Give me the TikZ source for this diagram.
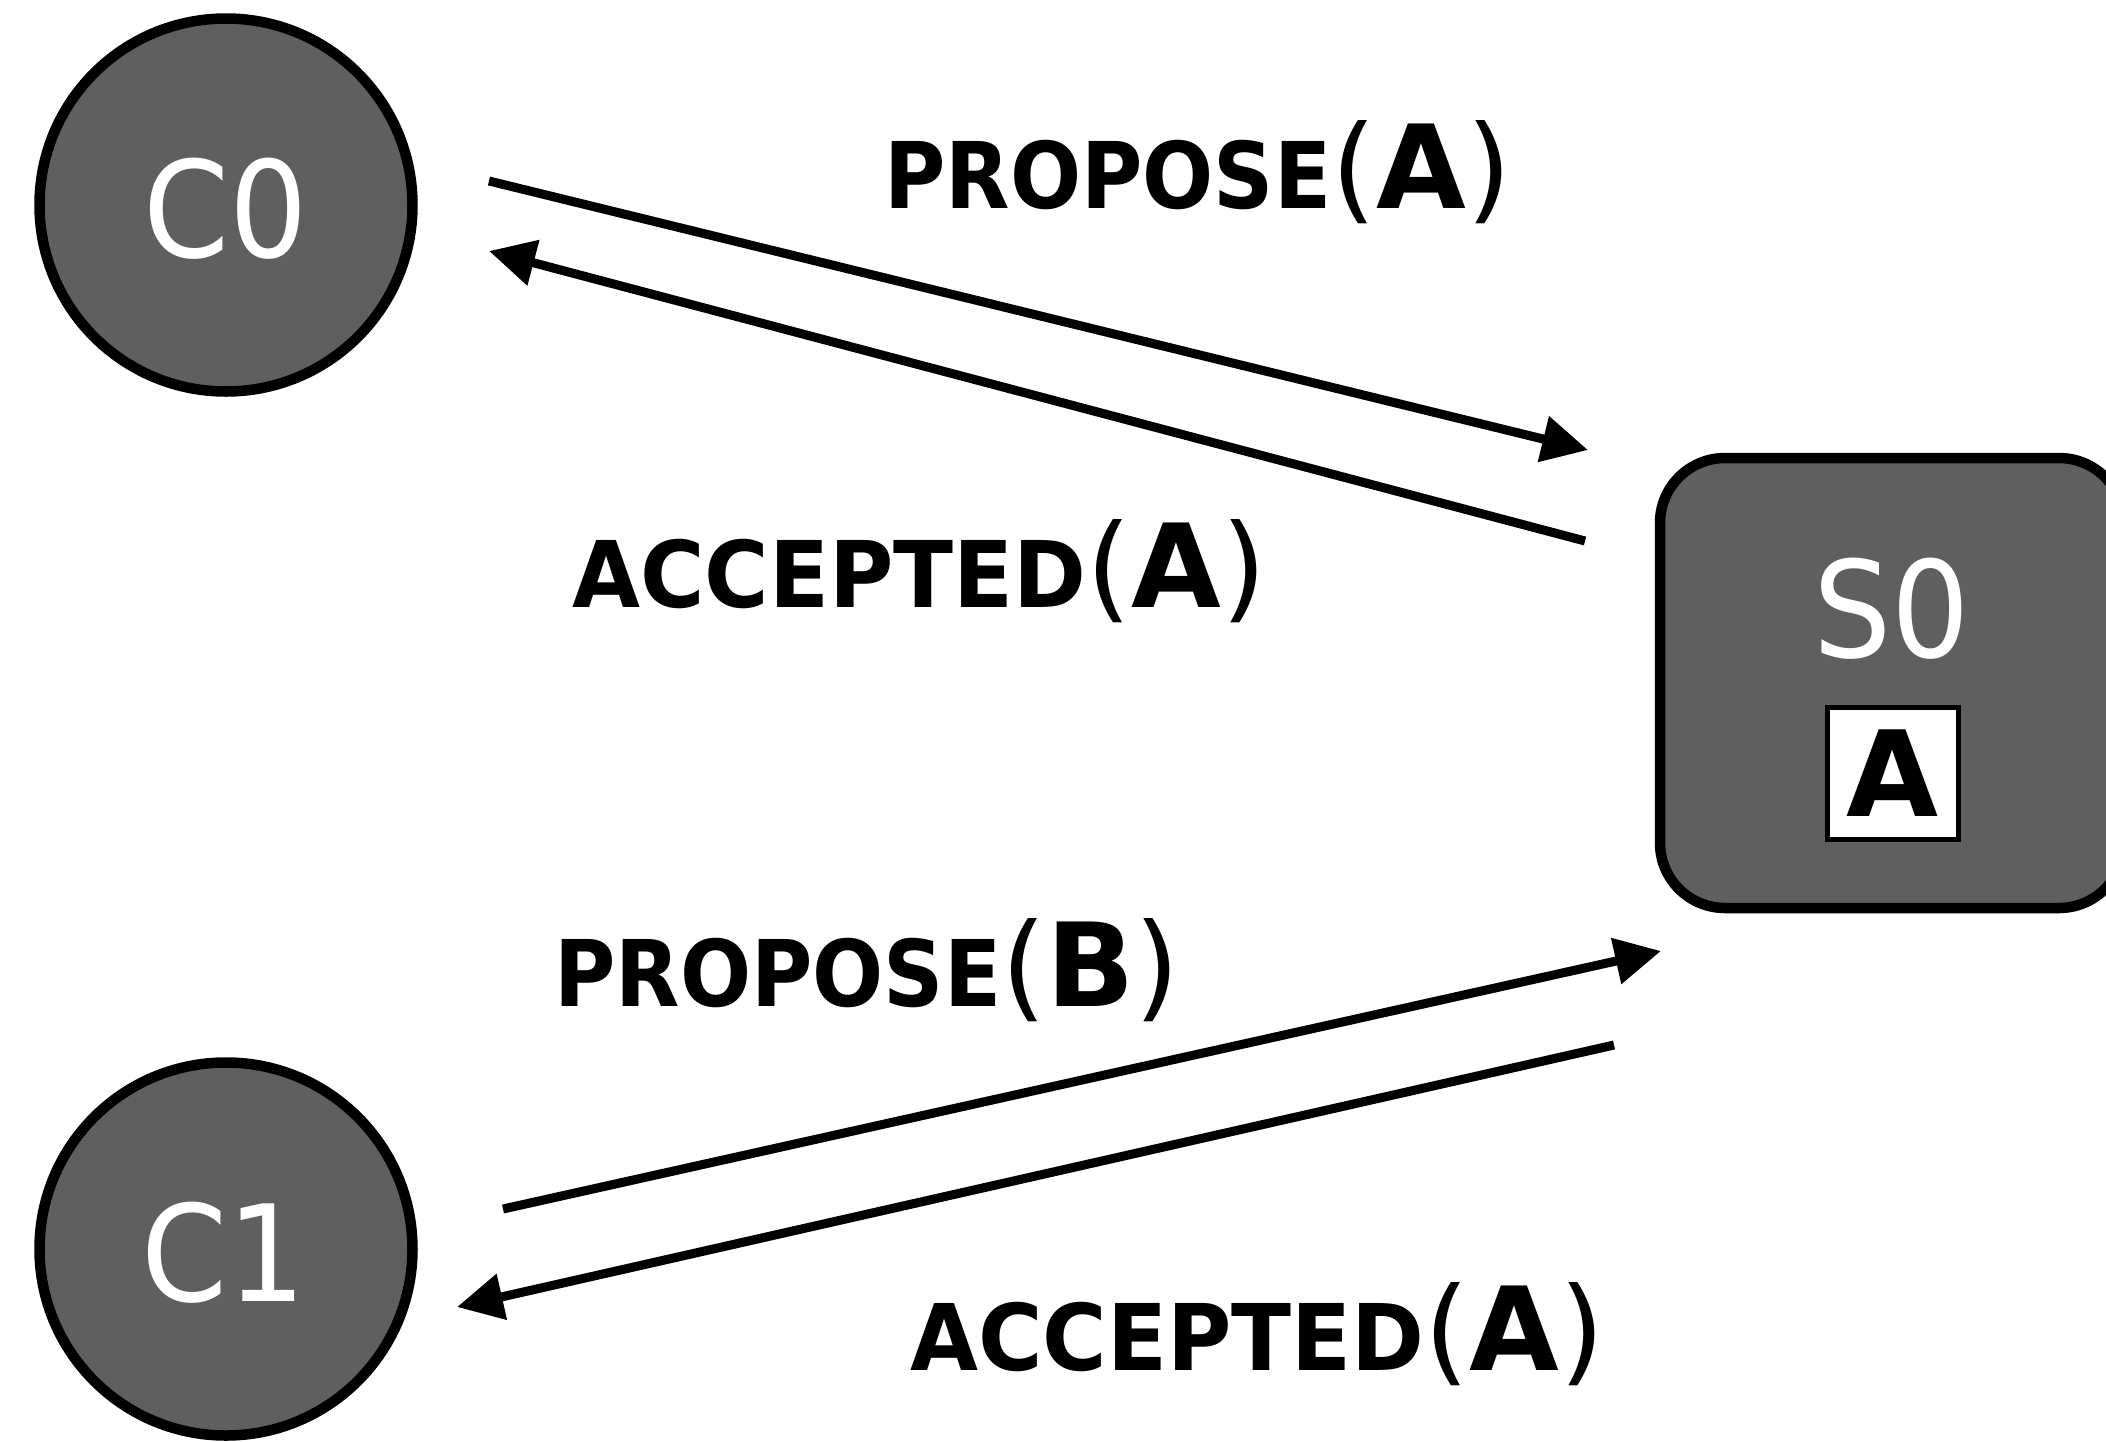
\documentclass[tikz,border=0pt]{standalone}
\usepackage{fontspec}
\setmainfont{DejaVu Sans}
\newfontfamily\proposefont{DejaVu Sans}[FakeStretch=0.91]
\newfontfamily\acceptfont{DejaVu Sans}[FakeStretch=0.955]
\newfontfamily\namefont{DejaVu Sans}[FakeStretch=0.92]
\usetikzlibrary{arrows.meta}
\definecolor{nodegray}{RGB}{95,95,95}
% message text: bold name, larger argument in parentheses
\newcommand\msgtext[3]{{#1\fontsize{92}{92}\selectfont\bfseries #2}{\fontsize{116}{116}\selectfont(\textbf{#3})}}

\begin{document}
\begin{tikzpicture}[x=1pt,y=-1pt,
  client/.style={circle, draw=black, line width=10.5pt, fill=nodegray,
    minimum size=373pt, inner sep=0pt},
  server/.style={rectangle, rounded corners=65pt, draw=black, line width=10.5pt,
    fill=nodegray, minimum width=464pt, minimum height=450pt, inner sep=0pt},
  nodename/.style={text=white, inner sep=0pt, font=\namefont\fontsize{134}{134}\selectfont},
  valuebox/.style={draw=black, line width=5pt, fill=white, minimum width=131pt,
    minimum height=132pt, inner sep=0pt, font=\fontsize{119}{119}\selectfont\bfseries},
  msg/.style={inner sep=0pt, anchor=base west},
  wire/.style={line width=9pt, -{Triangle[length=46pt,width=45pt]}},
]
\useasboundingbox (0,0) rectangle (2106,1441);
\clip (0,0) rectangle (2106,1441);

% clients and server
\node[client] (c0) at (226,205) {};
\node[nodename] (c0name) at (226,209) {C0};
\node[client] (c1) at (226,1249) {};
\node[nodename] (c1name) at (224,1253) {C1};
\node[server] (s0) at (1892,683) {};
\node[nodename] (s0name) at (1892,609) {S0};
\node[valuebox] (s0val) at (1893,773) {A};

% message end points
\coordinate (pa1) at (489,181);
\coordinate (pa2) at (1588,450);
\coordinate (aa1) at (1585,541);
\coordinate (aa2) at (489,251);
\coordinate (pb1) at (503,1209);
\coordinate (pb2) at (1661,951);
\coordinate (ab1) at (1614,1045);
\coordinate (ab2) at (457,1307);

\draw[wire] (pa1) -- (pa2);
\draw[wire] (aa1) -- (aa2);
\draw[wire] (pb1) -- (pb2);
\draw[wire] (ab1) -- (ab2);

% message labels
\node[msg] (lpa) at (884,208) {\msgtext{\proposefont}{PROPOSE}{A}};
\node[msg] (laa) at (572,607) {\msgtext{\acceptfont}{ACCEPTED}{A}};
\node[msg] (lpb) at (554,1006) {\msgtext{\proposefont}{PROPOSE}{B}};
\node[msg] (lab) at (910,1370) {\msgtext{\acceptfont}{ACCEPTED}{A}};
\end{tikzpicture}
\end{document}
